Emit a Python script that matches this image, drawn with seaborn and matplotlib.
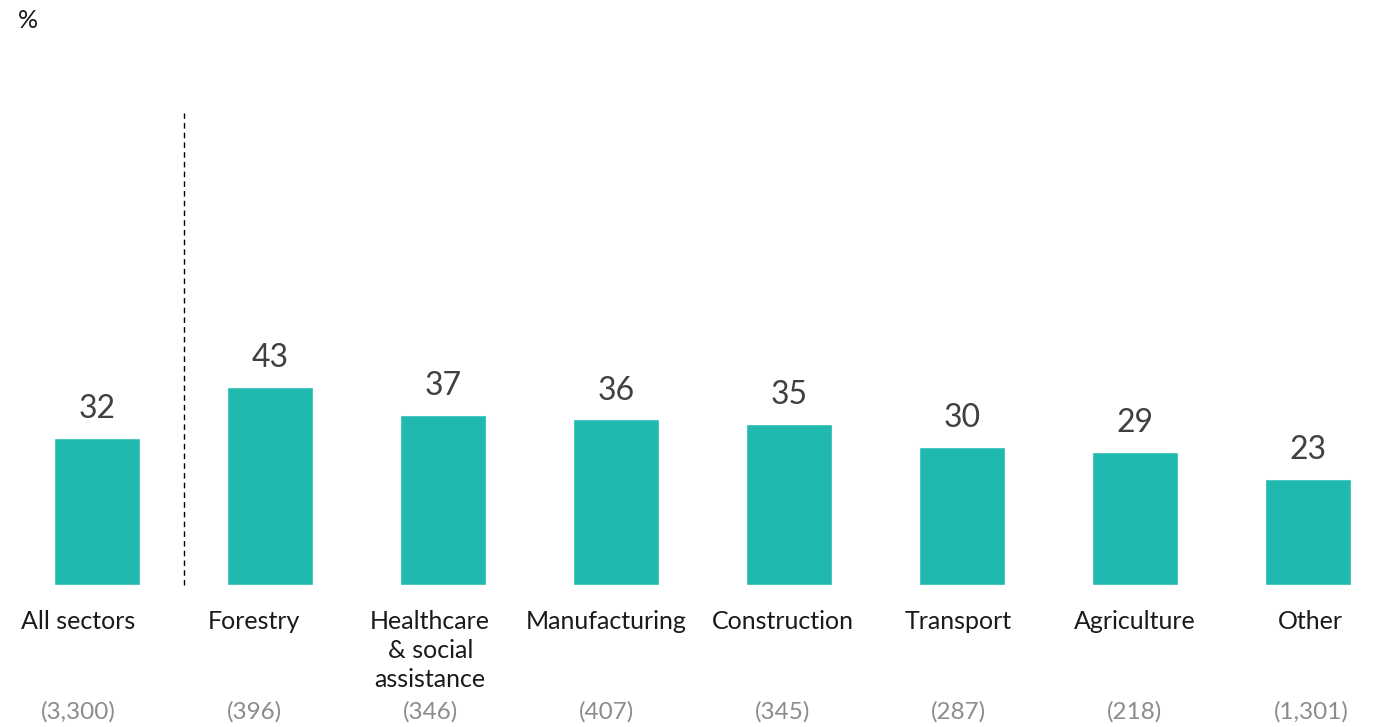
import matplotlib
matplotlib.use("Agg")
import matplotlib.pyplot as plt
import seaborn as sns
import pandas as pd
import numpy as np

# Data
sectors = ["All sectors", "Forestry", "Healthcare\n& social\nassistance", "Manufacturing",
           "Construction", "Transport", "Agriculture", "Other"]
shares = [32, 43, 37, 36, 35, 30, 29, 23]
counts = ["(3,300)", "(396)", "(346)", "(407)", "(345)", "(287)", "(218)", "(1,301)"]

df = pd.DataFrame({"sector": sectors, "share": shares})

sns.set_theme(style="white")
plt.rcParams["font.family"] = ["Lato", "DejaVu Sans"]

fig = plt.figure(figsize=(13.75, 7.27), dpi=100)
# axes spans full width; baseline at 142 px from bottom
ax = fig.add_axes([0, 142 / 727, 1, 483 / 727])

sns.barplot(data=df, x="sector", y="share", color="#20B9B0", width=0.5,
            saturation=1, ax=ax)

ax.set_xlim(-0.561, 7.387)
ax.set_ylim(0, 105)

# value labels above the bars
for i, v in enumerate(shares):
    ax.annotate(str(v), xy=(i, v), xytext=(0, 10), textcoords="offset points",
                ha="center", va="bottom", fontsize=23, color="#404040")

# separator between total and the sectors
ax.plot([0.5, 0.5], [0, 102.6], ls=(0, (4, 3)), color="black", lw=1, clip_on=False)

# category labels sit on a slightly wider grid than the bars in the original
label_pos = -0.11 + 1.018 * np.arange(len(sectors))
ax.set_xticks(label_pos, sectors)

# sample sizes below the labels
for x, c in zip(label_pos, counts):
    ax.annotate(c, xy=(x, 0), xycoords=("data", "axes fraction"),
                xytext=(0, -91), textcoords="offset points",
                ha="center", va="center", fontsize=17.5, color="#8c8c8c")

ax.set_xlabel("")
ax.set_ylabel("")
ax.set_yticks([])
ax.tick_params(axis="x", length=0, pad=18, labelsize=18, labelcolor="#1a1a1a")
for lbl in ax.get_xticklabels():
    lbl.set_linespacing(1.32)
sns.despine(ax=ax, left=True, bottom=True)

fig.text(28 / 1375, 1 - 20 / 727, "%", ha="center", va="center", fontsize=18, color="#1a1a1a")

fig.savefig("out.png", dpi=100)
